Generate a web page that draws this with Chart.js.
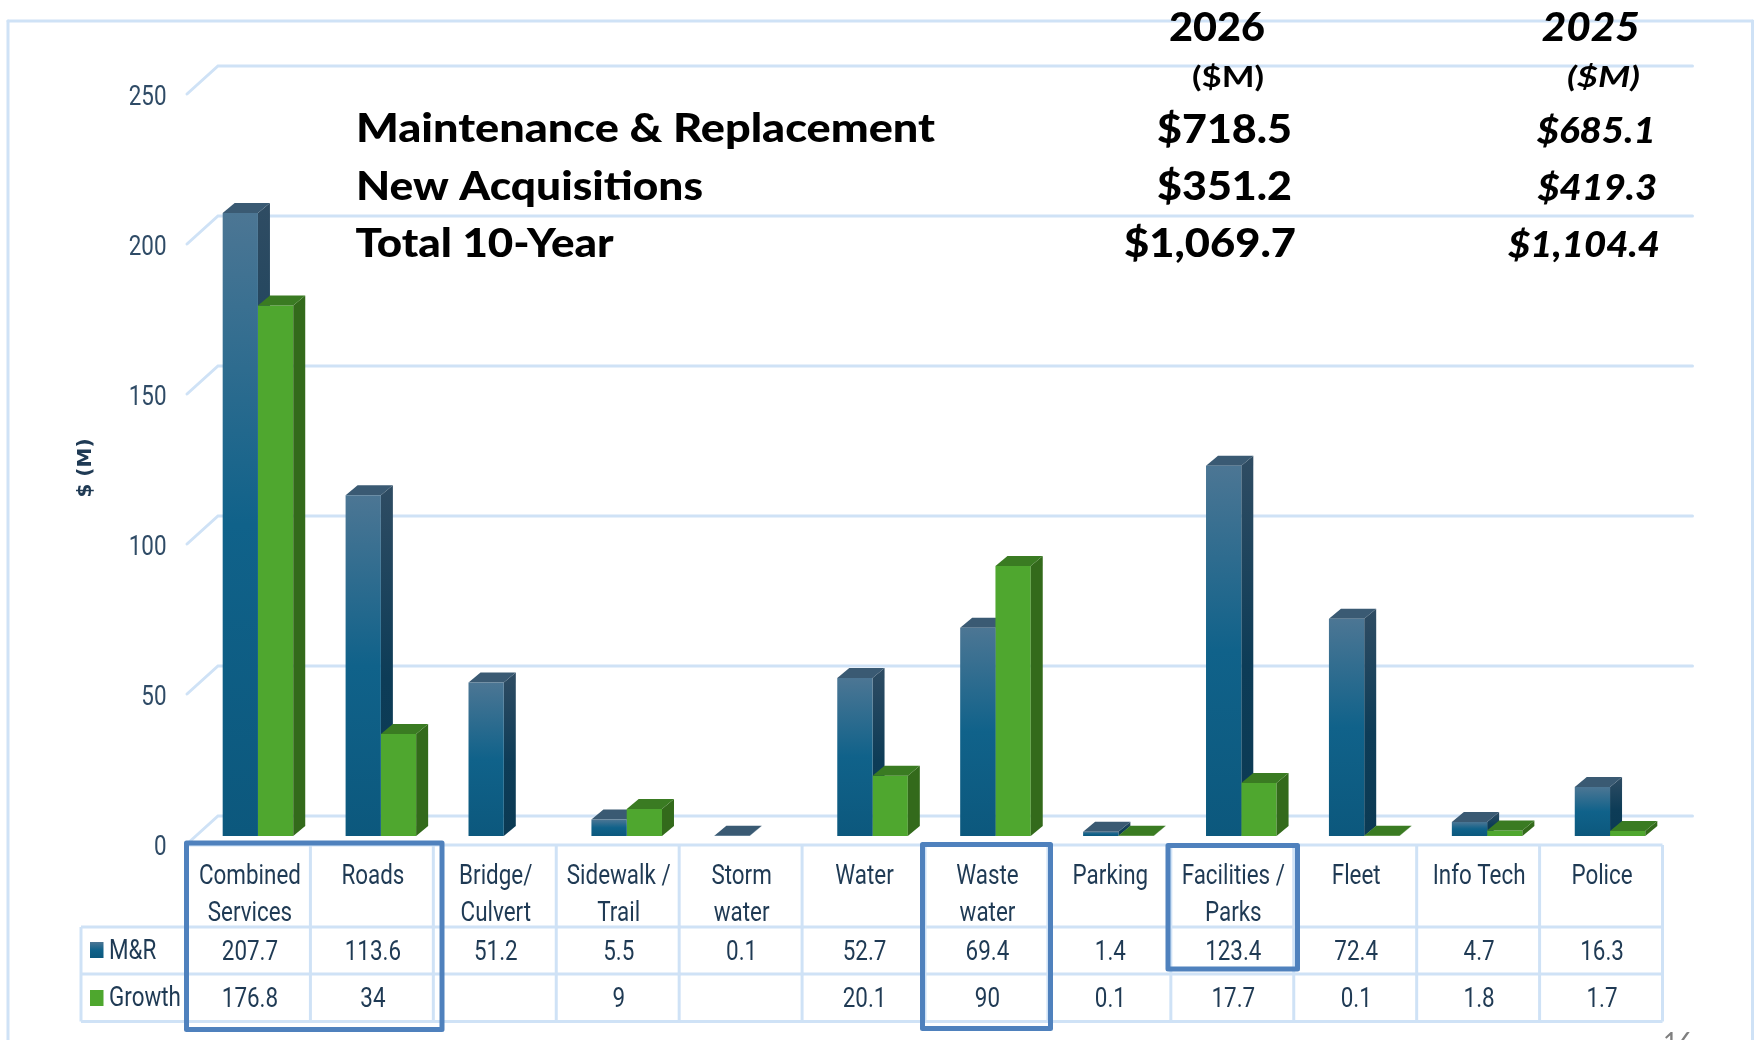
<!DOCTYPE html>
<html>
<head>
<meta charset="utf-8">
<style>html,body{margin:0;padding:0;background:#fff}canvas{display:block}</style>
<script src="https://cdn.jsdelivr.net/npm/chart.js@4/dist/chart.umd.js"></script>
</head>
<body>
<div style="position:relative;width:1754px;height:1040px"><canvas id="c" width="1754" height="1040"></canvas></div>
<script>
const categories = [['Combined','Services'],['Roads'],['Bridge/','Culvert'],['Sidewalk /','Trail'],['Storm','water'],['Water'],['Waste','water'],['Parking'],['Facilities /','Parks'],['Fleet'],['Info Tech'],['Police']];
const mrValues = [207.7,113.6,51.2,5.5,0.1,52.7,69.4,1.4,123.4,72.4,4.7,16.3];
const growthValues = [176.8,34,null,9,null,20.1,90,0.1,17.7,0.1,1.8,1.7];
const yTicks = [0,50,100,150,200,250];
const seriesNames = ['M&R','Growth'];
const yTitle = '$ (M)';
const summaryLabels = ['Maintenance & Replacement','New Acquisitions','Total 10-Year'];
const summary2026 = ['$718.5','$351.2','$1,069.7'];
const summary2025 = ['$685.1','$419.3','$1,104.4'];
const summaryHeads = ['2026','2025'];
const summaryUnit = '($M)';
const pageNumber = '16';

const NARROW = 'Roboto,sans-serif';
const CONDENSE = 0.83;
const HEAD = 'Lato,"Open Sans",sans-serif';
const INK = '#1f3a54';
const GRID = '#cfe2f6';
const BOX = '#4f81bd';
const DX = 12, DY = 10;          // bar depth
const WALL_DY = 20;              // back wall offset
const CELL_SHIFT = 9;            // table cells sit left of bars
const TEXT_SHIFT = 8;            // cell text centre relative to bars

const canvas = document.getElementById('c');
const ctx2d = canvas.getContext('2d');
// The reference's table and tick text is a narrow face: squeeze Roboto horizontally.
ctx2d.fillText = function (text, x, y, maxWidth) {
  const proto = CanvasRenderingContext2D.prototype.fillText;
  if (this.font.indexOf('Roboto') < 0) return proto.call(this, text, x, y);
  this.save();
  this.translate(x, y); this.scale(CONDENSE, 1);
  proto.call(this, text, 0, 0);
  this.restore();
};

function fitText(ctx, text, left, base, width, font, color) {
  ctx.save();
  ctx.font = font; ctx.fillStyle = color; ctx.textAlign = 'left'; ctx.textBaseline = 'alphabetic';
  const w = ctx.measureText(text).width;
  ctx.translate(left, base); ctx.scale(width / w, 1);
  ctx.fillText(text, 0, 0);
  ctx.restore();
}
function poly(ctx, pts, fill) {
  ctx.beginPath();
  pts.forEach((p, i) => i ? ctx.lineTo(p[0], p[1]) : ctx.moveTo(p[0], p[1]));
  ctx.closePath(); ctx.fillStyle = fill; ctx.fill();
}
function vGrad(ctx, top, bottom, stops) {
  const g = ctx.createLinearGradient(0, top, 0, Math.max(bottom, top + 0.5));
  stops.forEach(s => g.addColorStop(s[0], s[1]));
  return g;
}
const BLUE_FRONT = [[0,'#4c7694'],[0.5,'#10628a'],[1,'#0c587d']];
const BLUE_SIDE = [[0,'#2f4c63'],[0.55,'#0d3c57'],[1,'#0b3a54']];
function line(ctx, x1, y1, x2, y2) { ctx.beginPath(); ctx.moveTo(x1, y1); ctx.lineTo(x2, y2); ctx.stroke(); }

function drawDepth(chart, index) {
  const { ctx } = chart;
  const isBlue = index === 0;
  chart.getDatasetMeta(index).data.forEach((bar, i) => {
    if (chart.data.datasets[index].data[i] == null) return;
    const { x, y, base, width } = bar.getProps(['x','y','base','width'], true);
    const l = x - width / 2, r = x + width / 2;
    poly(ctx, [[r, y], [r + DX, y - DY], [r + DX, base - DY], [r, base]],
      isBlue ? vGrad(ctx, y - DY, base, BLUE_SIDE) : '#336a1b');
    poly(ctx, [[l, y], [l + DX, y - DY], [r + DX, y - DY], [r, y]], isBlue ? '#3a5a73' : '#3a7b22');
  });
}

const backdrop = {
  id: 'backdrop',
  beforeDatasetsDraw(chart) {
    const { ctx, scales: { y } } = chart;
    ctx.save();
    ctx.strokeStyle = GRID; ctx.lineWidth = 3; ctx.lineCap = 'round';
    // outer frame
    line(ctx, 8, 21, 1752.5, 21); line(ctx, 8, 21, 8, 1040); line(ctx, 1752.5, 21, 1752.5, 1040);
    // 3D wall + floor lines
    yTicks.forEach(v => {
      const p = y.getPixelForValue(v);
      ctx.beginPath();
      ctx.moveTo(187, p + 8); ctx.lineTo(218, p - WALL_DY); ctx.lineTo(1692.5, p - WALL_DY);
      ctx.stroke();
    });
    ctx.restore();
    ctx.save();
    drawDepth(chart, 0);   // M&R sides go behind the Growth fronts
    ctx.restore();
  },
  afterDatasetsDraw(chart) {
    chart.ctx.save();
    drawDepth(chart, 1);   // Growth sides and tops sit over M&R sides
    chart.ctx.restore();
  },
  afterDraw(chart) {
    const { ctx, scales: { x } } = chart;
    const colW = x.getPixelForTick(1) - x.getPixelForTick(0);
    const n = categories.length;
    const left = x.getPixelForTick(0) - CELL_SHIFT - colW / 2;
    const right = left + colW * n;
    const rows = [845, 927, 974, 1021.5];
    ctx.save();
    // table rules
    ctx.strokeStyle = GRID; ctx.lineWidth = 3; ctx.lineCap = 'butt';
    line(ctx, left, rows[0], right, rows[0]);
    line(ctx, 81, rows[1], right, rows[1]);
    line(ctx, 81, rows[2], right, rows[2]);
    line(ctx, 81, rows[3], right, rows[3]);
    line(ctx, 81, rows[1], 81, rows[3]);
    for (let i = 0; i <= n; i++) line(ctx, left + i * colW, rows[0], left + i * colW, rows[3]);
    // table values
    ctx.font = '27px ' + NARROW; ctx.fillStyle = INK; ctx.textAlign = 'center'; ctx.textBaseline = 'middle';
    for (let i = 0; i < n; i++) {
      const cx = x.getPixelForTick(i) - TEXT_SHIFT;
      if (mrValues[i] != null) ctx.fillText(String(mrValues[i]), cx, 953);
      if (growthValues[i] != null) ctx.fillText(String(growthValues[i]), cx, 1000);
    }
    // legend cells
    ctx.textAlign = 'left';
    ctx.fillText(seriesNames[0], 109, 952);
    ctx.fillText(seriesNames[1], 109, 999.5);
    ctx.fillStyle = vGrad(ctx, 942, 958, BLUE_FRONT); ctx.fillRect(90, 942, 13.5, 16);
    ctx.fillStyle = '#4ea72e'; ctx.fillRect(90, 990, 13.5, 16);
    // highlight boxes
    ctx.strokeStyle = BOX; ctx.lineWidth = 5; ctx.lineJoin = 'round';
    ctx.strokeRect(186.5, 843, 255.5, 186.5);
    ctx.strokeRect(922.5, 844.5, 128, 184);
    ctx.strokeRect(1168, 845.5, 129.5, 123.5);
    // y title
    ctx.save();
    ctx.translate(86, 468); ctx.rotate(-Math.PI / 2);
    ctx.font = 'bold 20px "DejaVu Sans",sans-serif'; ctx.fillStyle = INK;
    ctx.textAlign = 'center'; ctx.textBaseline = 'middle';
    ctx.fillText(yTitle, 0, 0);
    ctx.restore();
    // summary block
    const lBases = [141.7, 200, 256.7], lWidths = [579, 347, 258], lLefts = [356, 356, 355.5];
    summaryLabels.forEach((t, i) => fitText(ctx, t, lLefts[i], lBases[i], lWidths[i], '900 40px ' + HEAD, '#000'));
    fitText(ctx, summaryHeads[0], 1169, 41, 96, '900 40px ' + HEAD, '#000');
    fitText(ctx, summaryHeads[1], 1541.7, 41, 98, 'italic 900 40px ' + HEAD, '#000');
    fitText(ctx, summaryUnit, 1192, 87, 72, 'bold 29px ' + HEAD, '#000');
    fitText(ctx, summaryUnit, 1567, 87, 73, 'italic bold 29px ' + HEAD, '#000');
    const aLefts = [1157, 1157, 1124], aWidths = [135, 135, 172];
    summary2026.forEach((t, i) => fitText(ctx, t, aLefts[i], [142.7, 200, 257][i], aWidths[i], '900 40px ' + HEAD, '#000'));
    const bLefts = [1536.7, 1537.5, 1508], bWidths = [119, 119.5, 152];
    summary2025.forEach((t, i) => fitText(ctx, t, bLefts[i], [142.7, 200, 257][i], bWidths[i], 'italic 900 36px ' + HEAD, '#000'));
    // cropped page number
    ctx.font = '26px ' + HEAD; ctx.fillStyle = '#7f7f7f'; ctx.textAlign = 'center'; ctx.textBaseline = 'alphabetic';
    ctx.fillText(pageNumber, 1678, 1052);
    ctx.restore();
  }
};

const LEFT_PAD = 60;
new Chart(canvas, {
  type: 'bar',
  data: {
    labels: categories,
    datasets: [
      { label: seriesNames[0], data: mrValues, borderWidth: 0,
        backgroundColor(c) {
          const s = c.chart.scales && c.chart.scales.y;
          if (!s || c.raw == null) return '#10628a';
          const top = s.getPixelForValue(c.raw), bottom = s.getPixelForValue(0);
          if (!Number.isFinite(top) || !Number.isFinite(bottom)) return '#10628a';
          return vGrad(c.chart.ctx, top, bottom, BLUE_FRONT);
        } },
      { label: seriesNames[1], data: growthValues, borderWidth: 0, backgroundColor: '#4fa72f' }
    ]
  },
  options: {
    responsive: false,
    animation: false,
    events: [],
    layout: { padding: { left: LEFT_PAD, right: 82.5, top: 86, bottom: 0 } },
    plugins: { legend: { display: false }, tooltip: { enabled: false } },
    datasets: { bar: { categoryPercentage: 0.574, barPercentage: 1 } },
    scales: {
      x: {
        grid: { display: false, drawTicks: false }, border: { display: false },
        afterFit(s) { s.height = 204; s.paddingLeft = 0; s.paddingRight = 0; },
        ticks: { autoSkip: false, maxRotation: 0, minRotation: 0, padding: 23, labelOffset: -TEXT_SHIFT,
          color: INK, font: { family: NARROW, size: 27, lineHeight: 1.352 } }
      },
      y: {
        min: 0, max: 250,
        grid: { display: false, drawTicks: false }, border: { display: false },
        afterFit(s) { s.width = 196.5 - LEFT_PAD; s.paddingTop = 0; s.paddingBottom = 0; },
        afterBuildTicks(s) { s.ticks = yTicks.map(v => ({ value: v })); },
        ticks: { padding: 30, labelOffset: 12.5, color: '#2f4b66', font: { family: NARROW, size: 27 } }
      }
    }
  },
  plugins: [backdrop]
});
</script>
</body>
</html>
